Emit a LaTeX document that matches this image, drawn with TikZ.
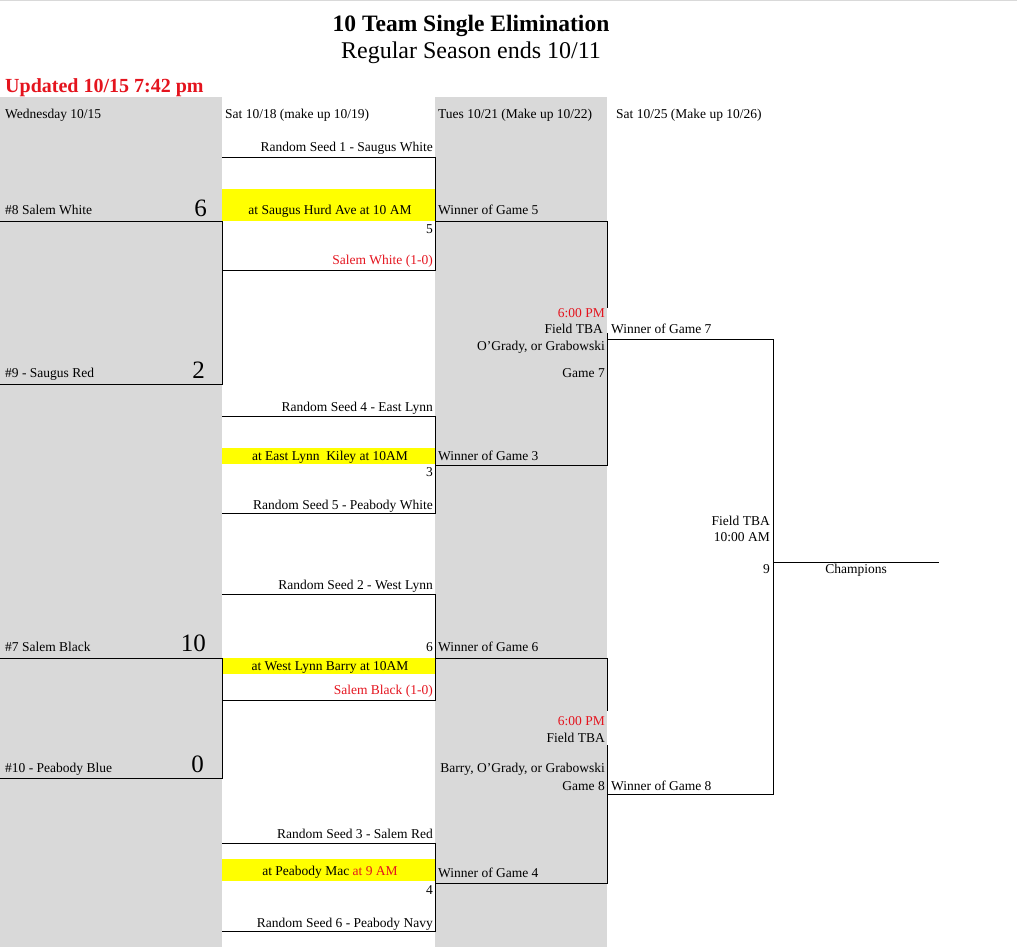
\documentclass[tikz,border=0pt]{standalone}
\usepackage{fontspec}
\setmainfont{Liberation Serif}
\usetikzlibrary{positioning}
\definecolor{cellgray}{RGB}{217,217,217}
\definecolor{scorered}{RGB}{228,20,30}
\definecolor{cellyellow}{RGB}{255,255,0}
\newcommand{\bodyfont}{\fontsize{13.5}{15}\selectfont}

\tikzset{
  team/.style={anchor=base west,inner sep=0pt,yshift=-1pt,font=\bodyfont},
  seed/.style={anchor=base east,inner sep=0pt,yshift=-1pt,font=\bodyfont},
  result/.style={seed,text=scorered},
  score/.style={anchor=base east,inner sep=0pt,font=\fontsize{25}{28}\selectfont},
  site/.style={anchor=base,inner sep=0pt,yshift=-1pt,font=\bodyfont},
  bracket/.style={line width=1pt,line cap=rect}
}

\begin{document}
\begin{tikzpicture}[x=1pt,y=-1pt]
\useasboundingbox (0,0) rectangle (1017,947);
\draw[black!15,line width=1pt] (0,0.5) -- (1017,0.5);

% gray columns and yellow cells
\fill[cellgray] (0,97) rectangle (222,947);
\fill[cellgray] (435,97) rectangle (607,947);
\fill[cellyellow] (222,189) rectangle (435,221);
\fill[cellyellow] (222,448) rectangle (435,464);
\fill[cellyellow] (222,658) rectangle (435,674);
\fill[cellyellow] (222,859) rectangle (435,881);

% titles
\draw (471,32) node[anchor=base,font=\bfseries\fontsize{23.5}{28}\selectfont] (title) {10 Team Single Elimination};
\draw (471,59) node[anchor=base,font=\fontsize{24}{28}\selectfont] (subtitle) {Regular Season ends 10/11};
\draw (5,93) node[anchor=base west,inner sep=0pt,text=scorered,font=\bfseries\fontsize{20}{24}\selectfont] (updated) {Updated 10/15 7:42 pm};

% day headings
\draw (5,118) node[team] (wed) {Wednesday 10/15};
\draw (225,118) node[team] (sat1) {Sat 10/18 (make up 10/19)};
\draw (438,118) node[team] (tue) {Tues 10/21 (Make up 10/22)};
\draw (616,118) node[team] (sat2) {Sat 10/25 (Make up 10/26)};

% first round
\draw (5,213) node[team] (salemwhite) {\#8 Salem White};
\draw (207,216) node[score] (s1) {6};
\draw (5,376) node[team] (saugusred) {\#9 - Saugus Red};
\draw (205,378) node[score] (s2) {2};
\draw (5,650) node[team] (salemblack) {\#7 Salem Black};
\draw (206,651) node[score] (s3) {10};
\draw (204,772) node[score] (s4) {0};
\draw (5,771) node[team] (peabodyblue) {\#10 - Peabody Blue};

% second round
\draw (433,150) node[seed] (rs1) {Random Seed 1 - Saugus White};
\draw (330,213) node[site] (site5) {at Saugus Hurd Ave at 10 AM};
\draw (433,232) node[seed] (g5) {5};
\draw (433,263) node[result] (res1) {Salem White (1-0)};
\draw (433,410) node[seed] (rs4) {Random Seed 4 - East Lynn};
\draw (330,459) node[site] (site3) {at East Lynn\ \ Kiley at 10AM};
\draw (433,475) node[seed] (g3) {3};
\draw (433,508) node[seed] (rs5) {Random Seed 5 - Peabody White};
\draw (433,588) node[seed] (rs2) {Random Seed 2 - West Lynn};
\draw (433,650) node[seed] (g6) {6};
\draw (330,669) node[site] (site6) {at West Lynn Barry at 10AM};
\draw (433,693) node[result] (res2) {Salem Black (1-0)};
\draw (433,837) node[seed] (rs3) {Random Seed 3 - Salem Red};
\draw (330,874) node[site] (site4) {at Peabody Mac \textcolor{scorered}{at 9 AM}};
\draw (433,893) node[seed] (g4) {4};
\draw (433,926) node[seed] (rs6) {Random Seed 6 - Peabody Navy};

% third round
\draw (438,213) node[team] (w5) {Winner of Game 5};
\draw (438,459) node[team] (w3) {Winner of Game 3};
\draw (438,650) node[team] (w6) {Winner of Game 6};
\draw (438,876) node[team] (w4) {Winner of Game 4};
\draw (605,316) node[result] (time7) {6:00 PM};
\draw (603,332) node[seed] (field7) {Field TBA};
\draw (605,349) node[seed] (ump7) {O'Grady, or Grabowski};
\draw (605,376) node[seed] (game7) {Game 7};
\draw (605,724) node[result] (time8) {6:00 PM};
\draw (605,741) node[seed] (field8) {Field TBA};
\draw (605,771) node[seed] (ump8) {Barry, O'Grady, or Grabowski};
\draw (605,789) node[seed] (game8) {Game 8};

% final
\draw (611,332) node[team] (w7) {Winner of Game 7};
\draw (611,789) node[team] (w8) {Winner of Game 8};
\draw (770,524) node[seed] (field9) {Field TBA};
\draw (770,540) node[seed] (time9) {10:00 AM};
\draw (770,572) node[seed] (g9) {9};
\draw (856,572) node[site] (champ) {Champions};

% bracket corners
\coordinate (a1) at (0,221);   \coordinate (a2) at (222,221);
\coordinate (a3) at (222,384); \coordinate (a4) at (0,384);
\coordinate (b1) at (0,658);   \coordinate (b2) at (222,658);
\coordinate (b3) at (222,778); \coordinate (b4) at (0,778);
\coordinate (c1) at (222,157); \coordinate (c2) at (435,157);
\coordinate (c3) at (435,270); \coordinate (c4) at (222,270);
\coordinate (d1) at (222,416); \coordinate (d2) at (435,416);
\coordinate (d3) at (435,513); \coordinate (d4) at (222,513);
\coordinate (e1) at (222,594); \coordinate (e2) at (435,594);
\coordinate (e3) at (435,700); \coordinate (e4) at (222,700);
\coordinate (f1) at (222,843); \coordinate (f2) at (435,843);
\coordinate (f3) at (435,931); \coordinate (f4) at (222,931);
\coordinate (h1) at (435,221); \coordinate (h2) at (607,221);
\coordinate (h3) at (607,465); \coordinate (h4) at (435,465);
\coordinate (k1) at (435,658); \coordinate (k2) at (607,658);
\coordinate (k3) at (607,883); \coordinate (k4) at (435,883);
\coordinate (m1) at (607,339); \coordinate (m2) at (773,339);
\coordinate (m3) at (773,794); \coordinate (m4) at (607,794);
\coordinate (n1) at (773,562); \coordinate (n2) at (938,562);

\draw[bracket] (a1) -- (a2) -- (a3) -- (a4);
\draw[bracket] (b1) -- (b2) -- (b3) -- (b4);
\draw[bracket] (c1) -- (c2) -- (c3) -- (c4);
\draw[bracket] (d1) -- (d2) -- (d3) -- (d4);
\draw[bracket] (e1) -- (e2) -- (e3) -- (e4);
\draw[bracket] (f1) -- (f2) -- (f3) -- (f4);
\draw[bracket] (h1) -- (h2) -- (607,307);
\draw[bracket] (607,333) -- (h3) -- (h4);
\draw[bracket] (k1) -- (k2) -- (607,710);
\draw[bracket] (607,745) -- (k3) -- (k4);
\draw[bracket] (m1) -- (m2) -- (m3) -- (m4);
\draw[bracket] (n1) -- (n2);
\end{tikzpicture}
\end{document}
